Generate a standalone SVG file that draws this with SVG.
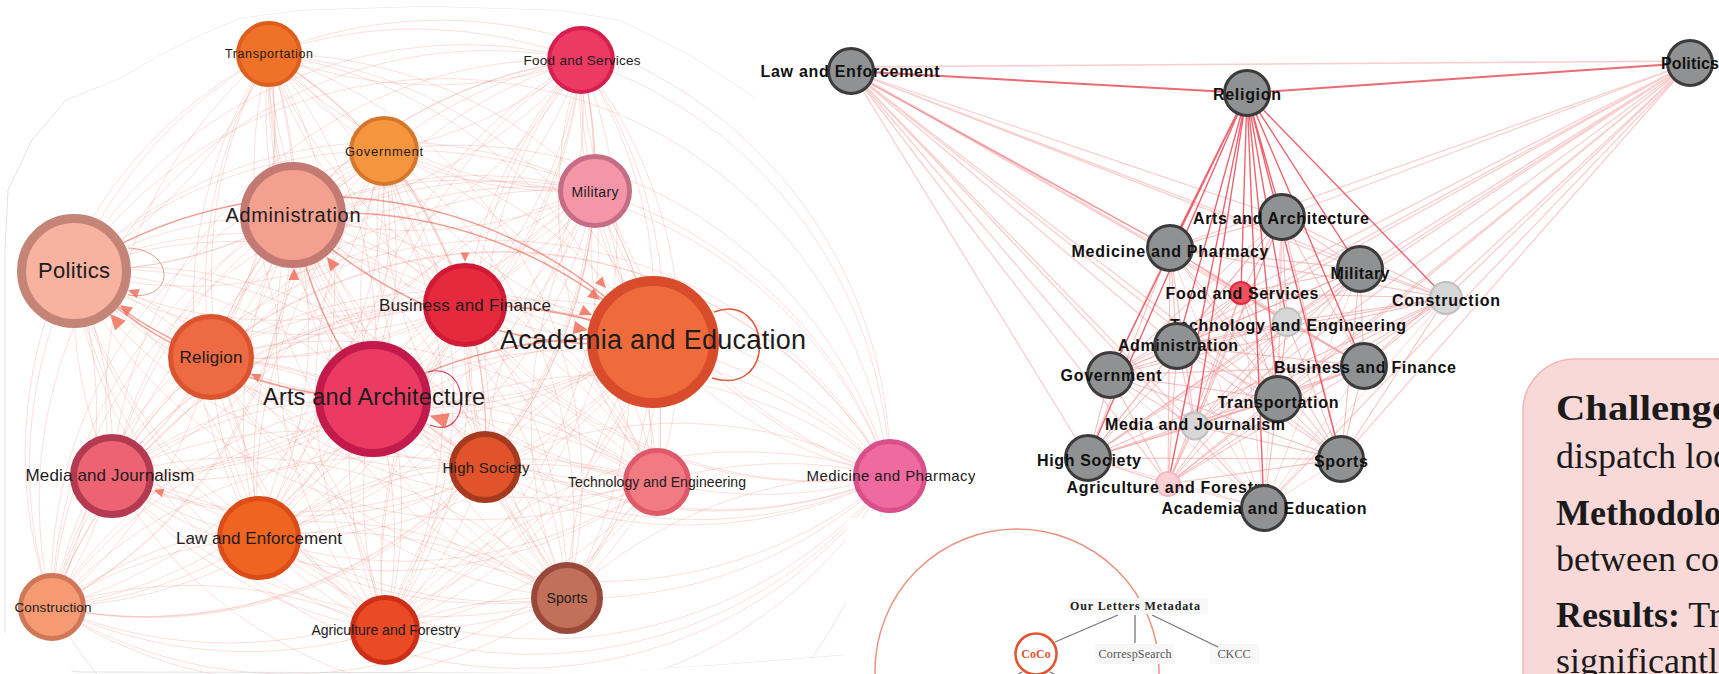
<svg xmlns="http://www.w3.org/2000/svg" width="1719" height="674" viewBox="0 0 1719 674">
<defs>
<style>
.le{fill:none;stroke:#ea7f72;stroke-opacity:.3;stroke-width:.8}
.lh{fill:none;stroke:#e8604c;stroke-opacity:.5;stroke-width:1.6}
.lt{font-family:"Liberation Sans",Arial,sans-serif;fill:#1c1c1c;text-anchor:middle}
.arr{fill:#f0705a;opacity:.85}
.rp{fill:none;stroke:#f29a9a;stroke-opacity:.4;stroke-width:1}
.rl{fill:none;stroke:#f3a0a0;stroke-opacity:.5;stroke-width:1.3}
.rr{fill:none;stroke:#e84a58;stroke-opacity:.85;stroke-width:1.4}
.gn{fill:#909193;stroke:#3b3b3b;stroke-width:3}
.ln{fill:#d7d7d7;stroke:#bfbfbf;stroke-width:2}
.rt{font-family:"Liberation Sans",Arial,sans-serif;font-weight:bold;font-size:16px;fill:#111;text-anchor:middle}
.st{font-family:"Liberation Serif","Times New Roman",serif;font-size:12px;text-anchor:middle}
.bx{font-family:"Liberation Serif","Times New Roman",serif;font-size:36px;fill:#1a1a1a}
</style>
<clipPath id="blob"><path d="M0 250L4 190L30 140L65 100L120 78L160 55L200 35L240 18L300 10L430 6L560 10L620 20L690 55L755 97L820 170L900 250L975 330L975 518L846 518L846 655L720 665L600 672L240 674L80 674L20 655L3 630Z"/></clipPath>
<path id="tri" d="M0 0L-12 -5.5L-12 5.5Z"/>
</defs>
<rect width="1719" height="674" fill="#fff"/>

<!-- category flow graph (curved, directed) -->
<g clip-path="url(#blob)">
<g id="left-edges">
<path class="le" d="M269 54A450 450 0 0 1 581 60 450 450 0 0 1 269 54 450 450 0 0 1 384 151 450 450 0 0 1 269 54 450 450 0 0 1 595 191 450 450 0 0 1 269 54 450 450 0 0 1 293 215 450 450 0 0 1 269 54 450 450 0 0 1 74 271 450 450 0 0 1 269 54 450 450 0 0 1 465 305 450 450 0 0 1 269 54 450 450 0 0 1 653 342 450 450 0 0 1 269 54 450 450 0 0 1 211 357 450 450 0 0 1 269 54 450 450 0 0 1 373 399 450 450 0 0 1 269 54 450 450 0 0 1 485 467 450 450 0 0 1 269 54 450 450 0 0 1 657 482 450 450 0 0 1 269 54 450 450 0 0 1 890 476 450 450 0 0 1 269 54 450 450 0 0 1 112 476 450 450 0 0 1 269 54 450 450 0 0 1 259 538 450 450 0 0 1 269 54 450 450 0 0 1 52 607 450 450 0 0 1 269 54 450 450 0 0 1 385 630 450 450 0 0 1 269 54 450 450 0 0 1 567 598 450 450 0 0 1 269 54"/>
<path class="le" d="M581 60A450 450 0 0 1 384 151 450 450 0 0 1 581 60 450 450 0 0 1 595 191 450 450 0 0 1 581 60 450 450 0 0 1 293 215 450 450 0 0 1 581 60 450 450 0 0 1 74 271 450 450 0 0 1 581 60 450 450 0 0 1 465 305 450 450 0 0 1 581 60 450 450 0 0 1 653 342 450 450 0 0 1 581 60 450 450 0 0 1 211 357 450 450 0 0 1 581 60 450 450 0 0 1 373 399 450 450 0 0 1 581 60 450 450 0 0 1 485 467 450 450 0 0 1 581 60 450 450 0 0 1 657 482 450 450 0 0 1 581 60 450 450 0 0 1 890 476 450 450 0 0 1 581 60 450 450 0 0 1 112 476 450 450 0 0 1 581 60 450 450 0 0 1 259 538 450 450 0 0 1 581 60 450 450 0 0 1 52 607 450 450 0 0 1 581 60 450 450 0 0 1 385 630 450 450 0 0 1 581 60 450 450 0 0 1 567 598 450 450 0 0 1 581 60"/>
<path class="le" d="M384 151A450 450 0 0 1 595 191 450 450 0 0 1 384 151 450 450 0 0 1 293 215 450 450 0 0 1 384 151 450 450 0 0 1 74 271 450 450 0 0 1 384 151 450 450 0 0 1 465 305 450 450 0 0 1 384 151 450 450 0 0 1 653 342 450 450 0 0 1 384 151 450 450 0 0 1 211 357 450 450 0 0 1 384 151 450 450 0 0 1 373 399 450 450 0 0 1 384 151 450 450 0 0 1 485 467 450 450 0 0 1 384 151 450 450 0 0 1 657 482 450 450 0 0 1 384 151 450 450 0 0 1 890 476 450 450 0 0 1 384 151 450 450 0 0 1 112 476 450 450 0 0 1 384 151 450 450 0 0 1 259 538 450 450 0 0 1 384 151 450 450 0 0 1 52 607 450 450 0 0 1 384 151 450 450 0 0 1 385 630 450 450 0 0 1 384 151 450 450 0 0 1 567 598 450 450 0 0 1 384 151"/>
<path class="le" d="M595 191A450 450 0 0 1 293 215 450 450 0 0 1 595 191 450 450 0 0 1 74 271 450 450 0 0 1 595 191 450 450 0 0 1 465 305 450 450 0 0 1 595 191 450 450 0 0 1 653 342 450 450 0 0 1 595 191 450 450 0 0 1 211 357 450 450 0 0 1 595 191 450 450 0 0 1 373 399 450 450 0 0 1 595 191 450 450 0 0 1 485 467 450 450 0 0 1 595 191 450 450 0 0 1 657 482 450 450 0 0 1 595 191 450 450 0 0 1 890 476 450 450 0 0 1 595 191 450 450 0 0 1 112 476 450 450 0 0 1 595 191 450 450 0 0 1 259 538 450 450 0 0 1 595 191 450 450 0 0 1 52 607 450 450 0 0 1 595 191 450 450 0 0 1 385 630 450 450 0 0 1 595 191 450 450 0 0 1 567 598 450 450 0 0 1 595 191"/>
<path class="le" d="M293 215A450 450 0 0 1 74 271 450 450 0 0 1 293 215 450 450 0 0 1 465 305 450 450 0 0 1 293 215 450 450 0 0 1 653 342 450 450 0 0 1 293 215 450 450 0 0 1 211 357 450 450 0 0 1 293 215 450 450 0 0 1 373 399 450 450 0 0 1 293 215 450 450 0 0 1 485 467 450 450 0 0 1 293 215 450 450 0 0 1 657 482 450 450 0 0 1 293 215 450 450 0 0 1 890 476 450 450 0 0 1 293 215 450 450 0 0 1 112 476 450 450 0 0 1 293 215 450 450 0 0 1 259 538 450 450 0 0 1 293 215 450 450 0 0 1 52 607 450 450 0 0 1 293 215 450 450 0 0 1 385 630 450 450 0 0 1 293 215 450 450 0 0 1 567 598 450 450 0 0 1 293 215"/>
<path class="le" d="M74 271A450 450 0 0 1 465 305 450 450 0 0 1 74 271 450 450 0 0 1 653 342 450 450 0 0 1 74 271 450 450 0 0 1 211 357 450 450 0 0 1 74 271 450 450 0 0 1 373 399 450 450 0 0 1 74 271 450 450 0 0 1 485 467 450 450 0 0 1 74 271 450 450 0 0 1 657 482 450 450 0 0 1 74 271 450 450 0 0 1 890 476 450 450 0 0 1 74 271 450 450 0 0 1 112 476 450 450 0 0 1 74 271 450 450 0 0 1 259 538 450 450 0 0 1 74 271 450 450 0 0 1 52 607 450 450 0 0 1 74 271 450 450 0 0 1 385 630 450 450 0 0 1 74 271 450 450 0 0 1 567 598 450 450 0 0 1 74 271"/>
<path class="le" d="M465 305A450 450 0 0 1 653 342 450 450 0 0 1 465 305 450 450 0 0 1 211 357 450 450 0 0 1 465 305 450 450 0 0 1 373 399 450 450 0 0 1 465 305 450 450 0 0 1 485 467 450 450 0 0 1 465 305 450 450 0 0 1 657 482 450 450 0 0 1 465 305 450 450 0 0 1 890 476 450 450 0 0 1 465 305 450 450 0 0 1 112 476 450 450 0 0 1 465 305 450 450 0 0 1 259 538 450 450 0 0 1 465 305 450 450 0 0 1 52 607 450 450 0 0 1 465 305 450 450 0 0 1 385 630 450 450 0 0 1 465 305 450 450 0 0 1 567 598 450 450 0 0 1 465 305"/>
<path class="le" d="M653 342A450 450 0 0 1 211 357 450 450 0 0 1 653 342 450 450 0 0 1 373 399 450 450 0 0 1 653 342 450 450 0 0 1 485 467 450 450 0 0 1 653 342 450 450 0 0 1 657 482 450 450 0 0 1 653 342 450 450 0 0 1 890 476 450 450 0 0 1 653 342 450 450 0 0 1 112 476 450 450 0 0 1 653 342 450 450 0 0 1 259 538 450 450 0 0 1 653 342 450 450 0 0 1 52 607 450 450 0 0 1 653 342 450 450 0 0 1 385 630 450 450 0 0 1 653 342 450 450 0 0 1 567 598 450 450 0 0 1 653 342"/>
<path class="le" d="M211 357A450 450 0 0 1 373 399 450 450 0 0 1 211 357 450 450 0 0 1 485 467 450 450 0 0 1 211 357 450 450 0 0 1 657 482 450 450 0 0 1 211 357 450 450 0 0 1 890 476 450 450 0 0 1 211 357 450 450 0 0 1 112 476 450 450 0 0 1 211 357 450 450 0 0 1 259 538 450 450 0 0 1 211 357 450 450 0 0 1 52 607 450 450 0 0 1 211 357 450 450 0 0 1 385 630 450 450 0 0 1 211 357 450 450 0 0 1 567 598 450 450 0 0 1 211 357"/>
<path class="le" d="M373 399A450 450 0 0 1 485 467 450 450 0 0 1 373 399 450 450 0 0 1 657 482 450 450 0 0 1 373 399 450 450 0 0 1 890 476 450 450 0 0 1 373 399 450 450 0 0 1 112 476 450 450 0 0 1 373 399 450 450 0 0 1 259 538 450 450 0 0 1 373 399 450 450 0 0 1 52 607 450 450 0 0 1 373 399 450 450 0 0 1 385 630 450 450 0 0 1 373 399 450 450 0 0 1 567 598 450 450 0 0 1 373 399"/>
<path class="le" d="M485 467A450 450 0 0 1 657 482 450 450 0 0 1 485 467 450 450 0 0 1 890 476 450 450 0 0 1 485 467 450 450 0 0 1 112 476 450 450 0 0 1 485 467 450 450 0 0 1 259 538 450 450 0 0 1 485 467 450 450 0 0 1 52 607 450 450 0 0 1 485 467 450 450 0 0 1 385 630 450 450 0 0 1 485 467 450 450 0 0 1 567 598 450 450 0 0 1 485 467"/>
<path class="le" d="M657 482A450 450 0 0 1 890 476 450 450 0 0 1 657 482 450 450 0 0 1 112 476 450 450 0 0 1 657 482 450 450 0 0 1 259 538 450 450 0 0 1 657 482 450 450 0 0 1 52 607 450 450 0 0 1 657 482 450 450 0 0 1 385 630 450 450 0 0 1 657 482 450 450 0 0 1 567 598 450 450 0 0 1 657 482"/>
<path class="le" d="M890 476A450 450 0 0 1 112 476 450 450 0 0 1 890 476 450 450 0 0 1 259 538 450 450 0 0 1 890 476 450 450 0 0 1 52 607 450 450 0 0 1 890 476 450 450 0 0 1 385 630 450 450 0 0 1 890 476 450 450 0 0 1 567 598 450 450 0 0 1 890 476"/>
<path class="le" d="M112 476A450 450 0 0 1 259 538 450 450 0 0 1 112 476 450 450 0 0 1 52 607 450 450 0 0 1 112 476 450 450 0 0 1 385 630 450 450 0 0 1 112 476 450 450 0 0 1 567 598 450 450 0 0 1 112 476"/>
<path class="le" d="M259 538A450 450 0 0 1 52 607 450 450 0 0 1 259 538 450 450 0 0 1 385 630 450 450 0 0 1 259 538 450 450 0 0 1 567 598 450 450 0 0 1 259 538"/>
<path class="le" d="M52 607A450 450 0 0 1 385 630 450 450 0 0 1 52 607 450 450 0 0 1 567 598 450 450 0 0 1 52 607M385 630A450 450 0 0 1 567 598 450 450 0 0 1 385 630"/>
<path class="lh" d="M373 399A450 450 0 0 1 653 342M465 305A450 450 0 0 1 653 342M293 215A450 450 0 0 1 653 342M74 271A450 450 0 0 1 653 342M211 357A450 450 0 0 1 74 271M373 399A450 450 0 0 1 74 271M653 342A450 450 0 0 1 293 215M373 399A450 450 0 0 1 293 215"/>
<path fill="none" stroke="#e0583c" stroke-width="1.5" d="M714 312C772 290 778 398 712 378"/>
<path fill="none" stroke="#d04060" stroke-width="1.2" d="M428 372C472 360 472 442 430 425"/>
<path fill="none" stroke="#e0a090" stroke-width="1" d="M128 248C176 250 176 302 128 295"/>
<use href="#tri" class="arr" transform="translate(588 330) rotate(10) scale(1.2)"/>
<use href="#tri" class="arr" transform="translate(592 315) rotate(24)"/>
<use href="#tri" class="arr" transform="translate(600 300) rotate(38)"/>
<use href="#tri" class="arr" transform="translate(606 288) rotate(48) scale(.9)"/>
<use href="#tri" class="arr" transform="translate(120 305) rotate(216)"/>
<use href="#tri" class="arr" transform="translate(110 314) rotate(228) scale(1.3)"/>
<use href="#tri" class="arr" transform="translate(128 290) rotate(200) scale(.9)"/>
<use href="#tri" class="arr" transform="translate(294 268) rotate(270)"/>
<use href="#tri" class="arr" transform="translate(327 257) rotate(233) scale(1.1)"/>
<use href="#tri" class="arr" transform="translate(430 416) rotate(196) scale(1.5)"/>
<use href="#tri" class="arr" transform="translate(251 374) rotate(205) scale(.8)"/>
<use href="#tri" class="arr" transform="translate(154 490) rotate(198) scale(.8)"/>
<use href="#tri" class="arr" transform="translate(465 262) rotate(90) scale(.8)"/>
</g>
<path fill="none" stroke="#c5cdd8" stroke-width=".8" stroke-opacity=".7" d="M5 640L5 250L8 190L32 140L66 100L120 78L160 55L200 35L240 18L300 10L430 6L560 10L620 20L690 55L755 97M5 640Q10 668 80 672L600 673L720 665L846 655"/>

<g id="l-transportation"><circle cx="269" cy="54" r="31" fill="#ef7228" stroke="#dc5f1e" stroke-width="4"/><text class="lt" x="269" y="58" font-size="12.5" textLength="88">Transportation</text></g>
<g id="l-food"><circle cx="581" cy="60" r="32" fill="#ec3a63" stroke="#d41f50" stroke-width="4"/><text class="lt" x="582" y="65" font-size="13.5" textLength="117">Food and Services</text></g>
<g id="l-government"><circle cx="384" cy="151" r="33" fill="#f5963f" stroke="#d5772a" stroke-width="4"/><text class="lt" x="384" y="156" font-size="13" textLength="78">Government</text></g>
<g id="l-military"><circle cx="595" cy="191" r="34.5" fill="#f495a8" stroke="#c56d84" stroke-width="5"/><text class="lt" x="595" y="197" font-size="14" textLength="47">Military</text></g>
<g id="l-administration"><circle cx="293" cy="215" r="49" fill="#f4a08f" stroke="#c27a72" stroke-width="8"/><text class="lt" x="293" y="222" font-size="20" textLength="135">Administration</text></g>
<g id="l-politics"><circle cx="74" cy="271" r="52.5" fill="#f7b39f" stroke="#c48476" stroke-width="9"/><text class="lt" x="74" y="278" font-size="22" textLength="72">Politics</text></g>
<g id="l-religion"><circle cx="211" cy="357" r="40.5" fill="#ee6a42" stroke="#da5430" stroke-width="5"/><text class="lt" x="211" y="363" font-size="17" textLength="63">Religion</text></g>
<g id="l-business"><circle cx="465" cy="305" r="39.5" fill="#e62a3e" stroke="#cf1b35" stroke-width="5"/><text class="lt" x="465" y="311" font-size="17" textLength="172">Business and Finance</text></g>
<g id="l-academia"><circle cx="653" cy="342" r="61" fill="#f06b3b" stroke="#d84c2c" stroke-width="10"/><text class="lt" x="653" y="349" font-size="27" textLength="306">Academia and Education</text></g>
<g id="l-arts"><circle cx="373" cy="399" r="54" fill="#ec3b63" stroke="#c21a4a" stroke-width="8"/><text class="lt" x="374" y="405" font-size="23.5" textLength="222">Arts and Architecture</text></g>
<g id="l-highsociety"><circle cx="485" cy="467" r="33" fill="#e0532b" stroke="#a53a1f" stroke-width="6"/><text class="lt" x="486" y="473" font-size="15" textLength="87">High Society</text></g>
<g id="l-technology"><circle cx="657" cy="482" r="31.5" fill="#f27a82" stroke="#de5a6a" stroke-width="5"/><text class="lt" x="657" y="487" font-size="14" textLength="178">Technology and Engineering</text></g>
<g id="l-medicine"><circle cx="890" cy="476" r="34.5" fill="#ee6a9f" stroke="#d84f8a" stroke-width="5"/><text class="lt" x="891" y="481" font-size="15" textLength="169">Medicine and Pharmacy</text></g>
<g id="l-media"><circle cx="112" cy="476" r="38.5" fill="#ee6374" stroke="#b43a52" stroke-width="7"/><text class="lt" x="110" y="481" font-size="17" textLength="169">Media and Journalism</text></g>
<g id="l-law"><circle cx="259" cy="538" r="39.5" fill="#f06422" stroke="#dc4c18" stroke-width="5"/><text class="lt" x="259" y="544" font-size="17" textLength="166">Law and Enforcement</text></g>
<g id="l-construction"><circle cx="52" cy="607" r="31.5" fill="#f59a72" stroke="#cf7756" stroke-width="5"/><text class="lt" x="53" y="612" font-size="13.5" textLength="77">Construction</text></g>
<g id="l-agriculture"><circle cx="385" cy="630" r="32.5" fill="#ea4a24" stroke="#cc2e18" stroke-width="5"/><text class="lt" x="386" y="635" font-size="14" textLength="149">Agriculture and Forestry</text></g>
<g id="l-sports"><circle cx="567" cy="598" r="33" fill="#c2705a" stroke="#98493a" stroke-width="6"/><text class="lt" x="567" y="603" font-size="14" textLength="41">Sports</text></g>
</g>

<!-- co-occurrence graph (straight, undirected) -->
<g id="right-edges">
<path class="rp" d="M1282 217L1170 248 1282 217 1360 269 1282 217 1241 293 1282 217 1446 298 1282 217 1287 322 1282 217 1177 346 1282 217 1110 375 1282 217 1364 366 1282 217 1278 399 1282 217 1195 426 1282 217 1088 458 1282 217 1341 459 1282 217 1168 484 1282 217 1264 508"/>
<path class="rp" d="M1170 248L1360 269 1170 248 1241 293 1170 248 1446 298 1170 248 1287 322 1170 248 1177 346 1170 248 1110 375 1170 248 1364 366 1170 248 1278 399 1170 248 1195 426 1170 248 1088 458 1170 248 1341 459 1170 248 1168 484 1170 248 1264 508"/>
<path class="rp" d="M1360 269L1241 293 1360 269 1446 298 1360 269 1287 322 1360 269 1177 346 1360 269 1110 375 1360 269 1364 366 1360 269 1278 399 1360 269 1195 426 1360 269 1088 458 1360 269 1341 459 1360 269 1168 484 1360 269 1264 508"/>
<path class="rp" d="M1241 293L1446 298 1241 293 1287 322 1241 293 1177 346 1241 293 1110 375 1241 293 1364 366 1241 293 1278 399 1241 293 1195 426 1241 293 1088 458 1241 293 1341 459 1241 293 1168 484 1241 293 1264 508"/>
<path class="rp" d="M1446 298L1287 322 1446 298 1177 346 1446 298 1110 375 1446 298 1364 366 1446 298 1278 399 1446 298 1195 426 1446 298 1088 458 1446 298 1341 459 1446 298 1168 484 1446 298 1264 508"/>
<path class="rp" d="M1287 322L1177 346 1287 322 1110 375 1287 322 1364 366 1287 322 1278 399 1287 322 1195 426 1287 322 1088 458 1287 322 1341 459 1287 322 1168 484 1287 322 1264 508"/>
<path class="rp" d="M1177 346L1110 375 1177 346 1364 366 1177 346 1278 399 1177 346 1195 426 1177 346 1088 458 1177 346 1341 459 1177 346 1168 484 1177 346 1264 508"/>
<path class="rp" d="M1110 375L1364 366 1110 375 1278 399 1110 375 1195 426 1110 375 1088 458 1110 375 1341 459 1110 375 1168 484 1110 375 1264 508"/>
<path class="rp" d="M1364 366L1278 399 1364 366 1195 426 1364 366 1088 458 1364 366 1341 459 1364 366 1168 484 1364 366 1264 508"/>
<path class="rp" d="M1278 399L1195 426 1278 399 1088 458 1278 399 1341 459 1278 399 1168 484 1278 399 1264 508M1195 426L1088 458 1195 426 1341 459 1195 426 1168 484 1195 426 1264 508M1088 458L1341 459 1088 458 1168 484 1088 458 1264 508M1341 459L1168 484 1341 459 1264 508M1168 484L1264 508"/>
<path class="rl" d="M851 71L1282 217 851 71 1170 248 851 71 1360 269 851 71 1241 293 851 71 1446 298 851 71 1287 322 851 71 1177 346 851 71 1110 375 851 71 1364 366 851 71 1278 399 851 71 1195 426 851 71 1088 458 851 71 1341 459 851 71 1168 484 851 71 1264 508"/>
<path class="rl" d="M1690 63L1282 217 1690 63 1170 248 1690 63 1360 269 1690 63 1241 293 1690 63 1446 298 1690 63 1287 322 1690 63 1177 346 1690 63 1110 375 1690 63 1364 366 1690 63 1278 399 1690 63 1195 426 1690 63 1088 458 1690 63 1341 459 1690 63 1168 484 1690 63 1264 508"/>
<path fill="none" stroke="#f6b8b8" stroke-width="1.5" stroke-opacity=".7" d="M851 67L1690 61"/>
<path fill="none" stroke="#e8606a" stroke-width="1.4" stroke-opacity=".6" d="M853 74L1170 248"/>
<path class="rr" d="M1247 93L1282 217 1247 93 1170 248 1247 93 1360 269 1247 93 1241 293 1247 93 1446 298 1247 93 1287 322 1247 93 1177 346 1247 93 1110 375 1247 93 1364 366 1247 93 1278 399 1247 93 1195 426 1247 93 1088 458 1247 93 1341 459 1247 93 1168 484 1247 93 1264 508"/>
<path fill="none" stroke="#e8505a" stroke-width="2" stroke-opacity=".85" d="M851 71L1247 93L1690 63"/>
</g>

<g id="r-law"><circle class="gn" cx="851" cy="71" r="22.5"/><text class="rt" x="850" y="77" textLength="179">Law and Enforcement</text></g>
<g id="r-religion"><circle class="gn" cx="1247" cy="93" r="22.5"/><text class="rt" x="1247" y="100" textLength="68">Religion</text></g>
<g id="r-politics"><circle class="gn" cx="1690" cy="63" r="22.5"/><text class="rt" x="1661" y="69" style="text-anchor:start" textLength="58">Politics</text></g>
<g id="r-arts"><circle class="gn" cx="1282" cy="217" r="22.5"/><text class="rt" x="1281" y="224" textLength="176">Arts and Architecture</text></g>
<g id="r-medicine"><circle class="gn" cx="1170" cy="248" r="22.5"/><text class="rt" x="1170" y="257" textLength="197">Medicine and Pharmacy</text></g>
<g id="r-military"><circle class="gn" cx="1360" cy="269" r="22.5"/><text class="rt" x="1360" y="279" textLength="59">Military</text></g>
<g id="r-food"><circle cx="1241" cy="293" r="11" fill="#f0505e" stroke="#e02a40" stroke-width="2"/><text class="rt" x="1242" y="299" textLength="153">Food and Services</text></g>
<g id="r-construction"><circle class="ln" cx="1446" cy="298" r="16"/><text class="rt" x="1446" y="306" textLength="108">Construction</text></g>
<g id="r-technology"><circle class="ln" cx="1287" cy="322" r="14"/><text class="rt" x="1288" y="331" textLength="236">Technology and Engineering</text></g>
<g id="r-administration"><circle class="gn" cx="1177" cy="346" r="22.5"/><text class="rt" x="1178" y="351" textLength="120">Administration</text></g>
<g id="r-government"><circle class="gn" cx="1110" cy="375" r="22.5"/><text class="rt" x="1111" y="381" textLength="101">Government</text></g>
<g id="r-business"><circle class="gn" cx="1364" cy="366" r="22.5"/><text class="rt" x="1365" y="373" textLength="182">Business and Finance</text></g>
<g id="r-transportation"><circle class="gn" cx="1278" cy="399" r="22.5"/><text class="rt" x="1278" y="408" textLength="121">Transportation</text></g>
<g id="r-media"><circle class="ln" cx="1195" cy="426" r="13.5"/><text class="rt" x="1195" y="430" textLength="180">Media and Journalism</text></g>
<g id="r-highsociety"><circle class="gn" cx="1088" cy="458" r="22.5"/><text class="rt" x="1089" y="466" textLength="104">High Society</text></g>
<g id="r-sports"><circle class="gn" cx="1341" cy="459" r="22.5"/><text class="rt" x="1341" y="467" textLength="54">Sports</text></g>
<g id="r-agriculture"><circle cx="1168" cy="484" r="12" fill="#fbd0d6" stroke="#f4b8c2" stroke-width="2"/><text class="rt" x="1168" y="493" textLength="203">Agriculture and Forestry</text></g>
<g id="r-academia"><circle class="gn" cx="1264" cy="508" r="22.5"/><text class="rt" x="1264" y="514" textLength="205">Academia and Education</text></g>

<!-- metadata source tree -->
<g id="sources">
<circle cx="1017" cy="671" r="142" fill="none" stroke="#e9937e" stroke-width="1.5"/>
<rect x="1068" y="598" width="140" height="16" fill="#f8f8f8"/>
<rect x="1095" y="644" width="78" height="20" fill="#f7f7f7"/>
<rect x="1210" y="644" width="49" height="20" fill="#f7f7f7"/>
<path fill="none" stroke="#777" stroke-width="1.3" d="M1118 615L1055 642M1135 615L1135 643M1152 615L1218 647M1022 672L1015 676M1050 672L1058 676"/>
<circle cx="1036" cy="654" r="20.5" fill="#fff" stroke="#e05530" stroke-width="2.5"/>
<text class="st" x="1135" y="610" font-weight="bold" font-size="13.5" fill="#222" textLength="130">Our Letters Metadata</text>
<text class="st" x="1036" y="658" font-weight="bold" fill="#e05530">CoCo</text>
<text class="st" x="1135" y="658" fill="#555" textLength="73">CorrespSearch</text>
<text class="st" x="1234" y="658" fill="#555" textLength="33">CKCC</text>
</g>

<!-- summary panel -->
<g id="summary">
<rect x="1523" y="359" width="260" height="400" rx="52" fill="#f9d8d8" stroke="#f2b6b6" stroke-width="1.5"/>
<text class="bx" x="1556" y="420" font-weight="bold" textLength="174" lengthAdjust="spacingAndGlyphs">Challenge</text>
<text class="bx" x="1556" y="468">dispatch loc</text>
<text class="bx" x="1556" y="525" font-weight="bold">Methodolo</text>
<text class="bx" x="1556" y="571">between co</text>
<text class="bx" x="1556" y="627"><tspan font-weight="bold">Results:</tspan> Tr</text>
<text class="bx" x="1556" y="673">significantl</text>
</g>
</svg>
